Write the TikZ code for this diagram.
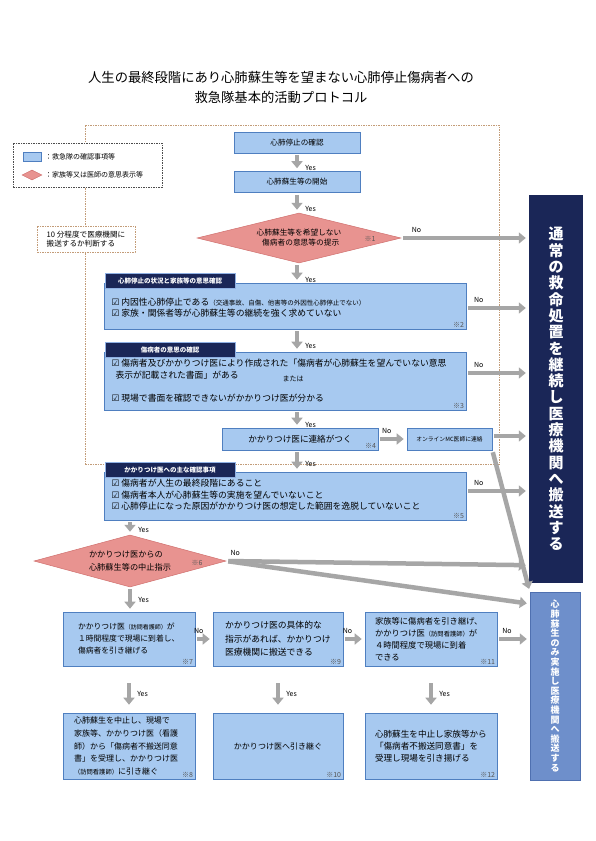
\documentclass[tikz,border=0pt]{standalone}
\usepackage{fontspec}
\setmainfont{Noto Sans CJK JP}
\newfontfamily\dejavu{DejaVu Sans}
\usetikzlibrary{arrows.meta,shapes.geometric}
\definecolor{cbfill}{HTML}{A7C9F0}
\definecolor{cbline}{HTML}{4F7FC0}
\definecolor{cpfill}{HTML}{E89390}
\definecolor{cpline}{HTML}{D0706E}
\definecolor{cnavy}{HTML}{1A2657}
\definecolor{ctabl}{HTML}{8FB0E3}
\definecolor{ccpr}{HTML}{6E8FCB}
\definecolor{ccprl}{HTML}{4F70B0}
\definecolor{cgarr}{HTML}{A6A6A6}
\definecolor{cdash}{HTML}{C39C78}
\definecolor{cnote}{HTML}{555555}
\newcommand{\chk}{{\dejavu ☑}\ }
\newcommand{\fs}[2]{\fontsize{#1}{#2}\selectfont}

\begin{document}
\begin{tikzpicture}[x=1pt, y=-1pt, font=\fs{8.8}{11.5},
  box/.style={draw=cbline, fill=cbfill, line width=0.6pt, inner sep=0pt},
  sect/.style={box, minimum width=362pt},
  cellbox/.style={box, align=left},
  dmd/.style={diamond, aspect=4, draw=cpline, fill=cpfill, line width=0.5pt, inner sep=0pt},
  hdr/.style={draw=ctabl, line width=0.8pt, fill=cnavy, text=white, font=\fs{6.5}{7}\bfseries,
    minimum width=130pt, minimum height=15pt, inner sep=0pt},
  dframe/.style={draw=cdash, line width=0.6pt, dash pattern=on 1.5pt off 1pt},
  garr/.style={-{Triangle[length=7pt,width=11pt]}, draw=cgarr, line width=4.5pt,
    shorten <=2pt, shorten >=3pt},
  yn/.style={font=\fs{7}{8}, inner sep=1pt},
  kome/.style={font=\fs{7}{8}, text=cnote, inner sep=2pt, anchor=south east}]

\path[use as bounding box, fill=white] (0,0) rectangle (595,841);

% ---- title
\node[font=\fs{13.3}{20}, align=center] (ttl) at (281,87)
  {人生の最終段階にあり心肺蘇生等を望まない心肺停止傷病者への\\救急隊基本的活動プロトコル};

% ---- dashed frame, legend, 10 min note
\node[dframe, minimum width=414pt, minimum height=339pt, inner sep=0pt] (frm) at (292,294.5) {};
\node[dframe, draw=black!70, fill=white, minimum width=149pt, minimum height=44pt, inner sep=0pt] (lgd) at (87.5,165) {};
\node[box, minimum width=18pt, minimum height=9pt] (lgb) at (32,156.5) {};
\node[anchor=west, font=\fs{7}{8}, inner sep=0pt] (lgbt) at (45,157) {：救急隊の確認事項等};
\node[dmd, minimum width=20pt, minimum height=10pt] (lgp) at (32,175) {};
\node[anchor=west, font=\fs{7}{8}, inner sep=0pt] (lgpt) at (45,175) {：家族等又は医師の意思表示等};
\node[dframe, fill=white, minimum width=98pt, minimum height=26pt, align=left,
  font=\fs{7.6}{9.5}] (nte) at (86,239) {10 分程度で医療機関に\\搬送するか判断する};

% ---- main column
\node[box, minimum width=126pt, minimum height=21pt, font=\fs{7.6}{9}] (cpa) at (297,142.5) {心肺停止の確認};
\node[box, minimum width=126pt, minimum height=21pt, font=\fs{7.6}{9}] (cps) at (297,182) {心肺蘇生等の開始};
\node[dmd, minimum width=204pt, minimum height=50pt, align=center, font=\fs{7.7}{10}] (d1) at (299,238)
  {心肺蘇生等を希望しない\\\ \ 傷病者の意思等の提示};
\node[kome, anchor=center] (k1) at (370,239) {※1};

% section 1
\node[sect, minimum height=46pt] (s1) at (285,306) {};
\node[hdr] (h1) at (170,281) {心肺停止の状況と家族等の意思確認};
\node[anchor=west, align=left] (s1t) at (108,307.5)
  {\chk 内因性心肺停止である{\fs{6.5}{7}（交通事故、自傷、他害等の外因性心肺停止でない）}\\\chk 家族・関係者等が心肺蘇生等の継続を強く求めていない};
\node[kome] (k2) at (s1.south east) {※2};

% section 2
\node[sect, minimum height=58pt] (s2) at (285,381) {};
\node[hdr] (h2) at (170,350) {傷病者の意思の確認};
\node[anchor=west] (s2a) at (108,363.5) {\chk 傷病者及びかかりつけ医により作成された「傷病者が心肺蘇生を望んでいない意思};
\node[anchor=west] (s2b) at (112,375) {表示が記載された書面」がある};
\node[font=\fs{7}{8}] (s2c) at (293,378.5) {または};
\node[anchor=west] (s2d) at (108,398) {\chk 現場で書面を確認できないがかかりつけ医が分かる};
\node[kome] (k3) at (s2.south east) {※3};

% contact row
\node[box, minimum width=156pt, minimum height=22pt, font=\fs{8.6}{10}] (con) at (300,439) {かかりつけ医に連絡がつく\hspace{10pt}};
\node[kome] (k4) at (con.south east) {※4};
\node[box, minimum width=85pt, minimum height=22pt, font=\fs{5.8}{7}] (onl) at (449.5,439) {オンラインMC医師に連絡};

% section 3
\node[sect, minimum height=48pt] (s3) at (285,496) {};
\node[hdr] (h3) at (170,470) {かかりつけ医への主な確認事項};
\node[anchor=west, align=left] (s3t) at (108,495)
  {\chk 傷病者が人生の最終段階にあること\\\chk 傷病者本人が心肺蘇生等の実施を望んでいないこと\\\chk 心肺停止になった原因がかかりつけ医の想定した範囲を逸脱していないこと};
\node[kome] (k5) at (s3.south east) {※5};

% ---- lower part
\node[dmd, minimum width=192pt, minimum height=52pt, align=left, font=\fs{8.2}{13.5}] (d2) at (130,561)
  {かかりつけ医からの\\心肺蘇生等の中止指示\hspace{8pt}};
\node[kome, anchor=center] (k6) at (197,563) {※6};

\node[cellbox, text width=102pt, inner xsep=15pt, minimum height=54pt, font=\fs{7.8}{12}] (b7) at (129,639)
  {かかりつけ医{\fs{6}{7}（訪問看護師）}が\\１時間程度で現場に到着し、\\傷病者を引き継げる};
\node[kome] (k7) at (b7.south east) {※7};
\node[cellbox, text width=106pt, inner xsep=12pt, minimum height=54pt, font=\fs{8.8}{13.5}] (b9) at (278,639)
  {かかりつけ医の具体的な\\指示があれば、かかりつけ\\医療機関に搬送できる};
\node[kome] (k9) at (b9.south east) {※9};
\node[cellbox, text width=112pt, inner xsep=10pt, minimum height=54pt, font=\fs{8.3}{12}] (b11) at (431,639)
  {家族等に傷病者を引き継げ、\\かかりつけ医{\fs{6.3}{7}（訪問看護師）}が\\４時間程度で現場に到着\\できる};
\node[kome] (k11) at (b11.south east) {※11};

\node[cellbox, text width=110pt, inner xsep=11pt, minimum height=66pt, font=\fs{8}{12.7}] (b8) at (129,746)
  {心肺蘇生を中止し、現場で\\家族等、かかりつけ医（看護\\師）から「傷病者不搬送同意\\書」を受理し、かかりつけ医\\{\fs{6.3}{7}（訪問看護師）}に引き継ぐ};
\node[kome] (k8) at (b8.south east) {※8};
\node[box, minimum width=130pt, minimum height=66pt, font=\fs{8}{10}] (b10) at (278,746) {かかりつけ医へ引き継ぐ};
\node[kome] (k10) at (b10.south east) {※10};
\node[cellbox, text width=112pt, inner xsep=10pt, minimum height=66pt, font=\fs{8.6}{12}] (b12) at (431,746)
  {心肺蘇生を中止し家族等から\\「傷病者不搬送同意書」を\\受理し現場を引き揚げる};
\node[kome] (k12) at (b12.south east) {※12};

% ---- right hand targets
\node[fill=cnavy, minimum width=54pt, minimum height=388pt, inner sep=0pt, text=white,
  align=center, font=\fs{15}{16.3}\bfseries] (nav) at (556,389)
  {通\\常\\の\\救\\命\\処\\置\\を\\継\\続\\し\\医\\療\\機\\関\\へ\\搬\\送\\す\\る};
\node[draw=ccprl, fill=ccpr, minimum width=50pt, minimum height=188pt, inner sep=0pt, text=white,
  align=center, font=\fs{9}{9.6}\bfseries] (cpr) at (555,686)
  {心\\肺\\蘇\\生\\の\\み\\実\\施\\し\\医\\療\\機\\関\\へ\\搬\\送\\す\\る};

% ---- yes arrows
\draw[garr] (cpa) -- node[yn, right=5pt, pos=0.8]{Yes} (cps);
\draw[garr] (cps) -- node[yn, right=5pt, pos=0.8]{Yes} (cps |- d1.north);
\draw[garr] (d1.south -| cps) -- node[yn, right=5pt, pos=0.85]{Yes} (s1.north -| cps);
\draw[garr] (s1.south -| cps) -- node[yn, right=5pt, pos=0.75]{Yes} (s2.north -| cps);
\draw[garr] (s2.south -| cps) -- node[yn, right=5pt, pos=0.85]{Yes} (con.north -| cps);
\draw[garr] (con.south -| cps) -- node[yn, right=5pt, pos=0.65]{Yes} (s3.north -| cps);
\draw[garr] (s3.south -| d2) -- node[yn, right=5pt, pos=0.7]{Yes} (d2.north);
\draw[garr] (d2.south) -- node[yn, right=5pt, pos=0.5]{Yes} (d2.south |- b7.north);
\draw[garr, shorten <=17pt, shorten >=8pt] (b7) -- node[yn, right=5pt, pos=0.6]{Yes} (b8);
\draw[garr, shorten <=17pt, shorten >=8pt] (b9) -- node[yn, right=5pt, pos=0.6]{Yes} (b10);
\draw[garr, shorten <=17pt, shorten >=8pt] (b11) -- node[yn, right=5pt, pos=0.6]{Yes} (b12);

% ---- no arrows
\draw[garr] (d1.east) -- node[yn, above=2pt, pos=0.12]{No} (d1.east -| nav.west);
\draw[garr] ([yshift=-2pt]s1.east) -- node[yn, above=2pt, pos=0.2]{No} ([yshift=-2pt]s1.east -| nav.west);
\draw[garr] ([yshift=8pt]s2.east) -- node[yn, above=2pt, pos=0.2]{No} ([yshift=8pt]s2.east -| nav.west);
\draw[garr] ([yshift=5pt]s3.east) -- node[yn, above=2pt, pos=0.2]{No} ([yshift=5pt]s3.east -| nav.west);
\draw[garr] (con) -- node[yn, above=2pt, pos=0.3]{No} (onl);
\draw[garr] ([yshift=3pt]onl.east) -- ([yshift=3pt]onl.east -| nav.west);
\draw[garr] (onl.south east) -- (cpr.north west);
\draw[garr] (d2.east) -- node[yn, above=2pt, pos=0.03]{No} ([yshift=18pt]nav.south west);
\draw[garr] (d2.east) -- ([yshift=-12pt]cpr.north west);
\draw[garr] (b7) -- node[yn, above=2pt, pos=0.2]{No} (b9);
\draw[garr] (b9) -- node[yn, above=2pt, pos=0.2]{No} (b11);
\draw[garr] (b11.east) -- node[yn, above=2pt, pos=0.3]{No} (b11.east -| cpr.west);
\end{tikzpicture}
\end{document}
